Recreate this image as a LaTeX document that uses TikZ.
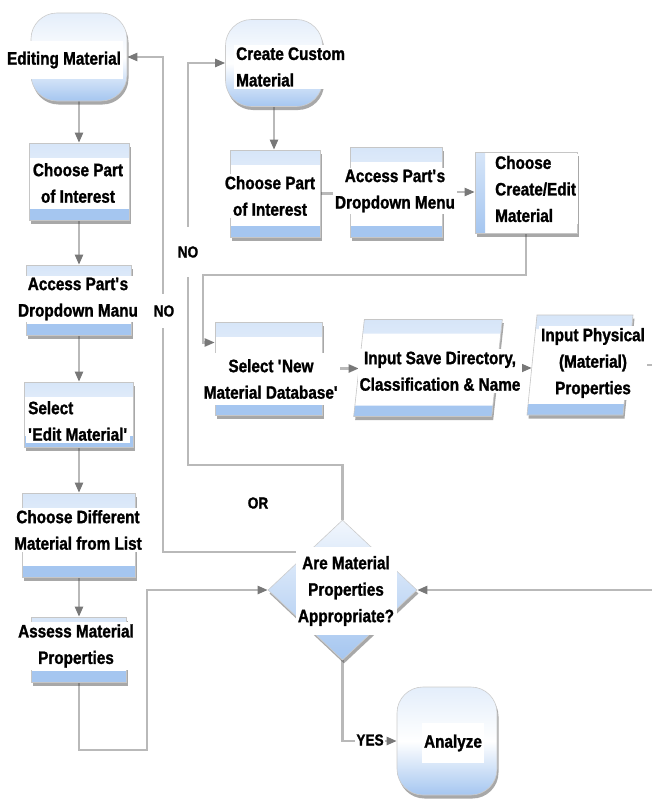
\documentclass[tikz,border=0pt]{standalone}
\usepackage{fontspec}
\setmainfont{Liberation Sans}[FakeStretch=0.85,BoldFeatures={FakeBold=1.3}]
\usetikzlibrary{shapes.geometric,arrows.meta,shadows,calc,backgrounds}
\pgfdeclarelayer{paper}
\pgfsetlayers{paper,background,main}
\definecolor{boxblue}{RGB}{165,198,240}
\definecolor{linegray}{RGB}{185,185,185}
\definecolor{tipgray}{RGB}{120,120,120}
\newcommand\lblfont{\fontsize{18}{26.5}\selectfont\bfseries}
\newcommand\edgefont{\fontsize{16}{20}\selectfont\bfseries}
\newcommand\sq{\textquotesingle}

\begin{document}
\begin{tikzpicture}[x=1pt,y=-1pt,
  softshadow/.style={drop shadow={shadow xshift=1.5pt,shadow yshift=-3.5pt,opacity=0.45,fill=black!75}},
  procbox/.style={rectangle,draw=gray!45,line width=0.6pt,fill=white,inner sep=0pt,softshadow,
    path picture={
      \shade[top color=boxblue!45,bottom color=white]
        (path picture bounding box.north west) rectangle ([yshift=-14pt]path picture bounding box.north east);
      \fill[boxblue] (path picture bounding box.south west) rectangle ([yshift=11pt]path picture bounding box.south east);}},
  sidebox/.style={rectangle,draw=gray!45,line width=0.6pt,fill=white,inner sep=0pt,softshadow,
    path picture={
      \shade[top color=boxblue!45,bottom color=boxblue]
        (path picture bounding box.south west) rectangle ([xshift=10pt]path picture bounding box.north west);}},
  termbox/.style={rectangle,rounded corners=26pt,draw=gray!40,line width=0.6pt,
    top color=boxblue!30,bottom color=boxblue,middle color=white,inner sep=0pt,softshadow},
  decision/.style={diamond,draw=gray!40,line width=0.6pt,top color=boxblue!15,bottom color=boxblue,
    inner sep=0pt,softshadow},
  lbl/.style={font=\lblfont,align=center,fill=white,inner sep=2pt,text=black},
  edgelbl/.style={font=\edgefont,fill=white,inner sep=1pt,text=black},
  link/.style={draw=linegray,line width=2.2pt},
  arr/.style={link,-{Triangle[length=10pt,width=8pt,color=tipgray]}}
]
\useasboundingbox (0,0) rectangle (652,800);
\begin{pgfonlayer}{paper}
  \fill[white] (0,0) rectangle (652,800);
\end{pgfonlayer}

% ---- left column: editing an existing material
\node[termbox,minimum width=96pt,minimum height=88pt] (edit) at (79,57) {};
\node[procbox,minimum width=100pt,minimum height=77pt] (chp1) at (79,181.5) {};
\node[procbox,minimum width=105pt,minimum height=70pt] (acc1) at (79,300) {};
\node[procbox,minimum width=109pt,minimum height=65pt] (sel1) at (79,414.5) {};
\node[procbox,minimum width=113pt,minimum height=84pt] (chd1) at (79,535) {};
\node[procbox,minimum width=95pt,minimum height=65pt] (ass1) at (79,649.5) {};

% ---- top row: creating a custom material
\node[termbox,minimum width=97pt,minimum height=87pt] (create) at (274,63) {};
\node[procbox,minimum width=90pt,minimum height=87pt] (chp2) at (275,193.5) {};
\node[procbox,minimum width=92pt,minimum height=90pt] (acc2) at (396,192) {};
\node[sidebox,minimum width=102pt,minimum height=81pt] (cce) at (526,192.5) {};

% ---- middle row: new material database
\node[procbox,minimum width=107pt,minimum height=93pt] (seln) at (268.5,368.5) {};
\begin{scope}[shift={(428,368)},xslant=0.11]
  \node[procbox,transform shape,minimum width=138pt,minimum height=97pt] (save) at (0,0) {};
\end{scope}
\begin{scope}[shift={(580,365)},xslant=0.1]
  \node[procbox,transform shape,minimum width=96pt,minimum height=100pt] (phys) at (0,0) {};
\end{scope}

% ---- decision and end
\node[decision,minimum width=149pt,minimum height=140pt] (dia) at (342.5,590) {};
\node[termbox,minimum width=100pt,minimum height=108pt] (analyze) at (447,741) {};

% ---- texts
\node[lbl,minimum height=38pt] (editt) at (64,60) {Editing Material};
\node[lbl] (chp1t) at (78,183) {Choose Part\\of Interest};
\node[lbl] (acc1t) at (78,299) {Access Part\sq s\\Dropdown Manu};
\node[lbl,align=left,anchor=west] (sel1t) at (26,421) {Select\\\sq Edit Material\sq};
\node[lbl] (chd1t) at (78,530) {Choose Different\\Material from List};
\node[lbl] (ass1t) at (76,646) {Assess Material\\Properties};
\node[lbl,align=left,anchor=west] (createt) at (234,67) {Create Custom\\Material};
\node[lbl] (chp2t) at (270,196) {Choose Part\\of Interest};
\node[lbl] (acc2t) at (395,191) {Access Part\sq s\\Dropdown Menu};
\node[lbl,align=left,anchor=west] (ccet) at (493,189) {Choose\\Create/Edit\\Material};
\node[lbl,minimum height=52pt] (selnt) at (271,379) {Select \sq New\\Material Database\sq};
\node[lbl] (savet) at (440,371) {Input Save Directory,\\Classification \& Name};
\node[lbl] (physt) at (593,363) {Input Physical\\(Material)\\Properties};
\node[lbl,minimum width=101pt,minimum height=88pt] (diat) at (346,591) {Are Material\\Properties\\Appropriate?};
\node[lbl,minimum height=40pt] (analyzet) at (453,743) {Analyze};

% ---- rails for the connectors
\coordinate (loopA) at (147,750);
\coordinate (railB) at (188,465);
\coordinate (railC) at (163,0);
\coordinate (railD) at (203,275);
\coordinate (offR) at (700,0);
\coordinate (nwpt) at ($(dia.north)!0.457!(dia.west)$);

% ---- connectors
\begin{scope}[on background layer]
  \draw[arr] (edit) -- (chp1);
  \draw[arr] (chp1) -- (acc1);
  \draw[arr] (acc1) -- (sel1);
  \draw[arr] (sel1) -- (chd1);
  \draw[arr] (chd1) -- (ass1);
  \draw[arr] (ass1.south) |- (loopA) |- (dia.west);
  \draw[arr] (dia.north) |- (railB) |- (create.west);
  \draw[arr] (nwpt) -- (nwpt -| railC) |- (edit.east);
  \draw[arr] (create.south) -- (create.south |- chp2.north);
  \draw[arr] (chp2.east) -- (chp2.east -| acc2.west);
  \draw[arr] (acc2.east) -- (acc2.east -| cce.west);
  \draw[arr] (cce.south) |- (railD) |- ([yshift=26pt]seln.west);
  \draw[arr] (seln.east) -- (seln.east -| save.west);
  \draw[arr] (save.east) -- (save.east -| phys.west);
  \draw[arr] (phys.east) -- (phys.east -| offR) |- (dia.east);
  \draw[arr] (dia.south) |- (analyze.west);
\end{scope}

% ---- connector labels
\node[edgelbl,minimum height=50pt] (no1) at (188,252) {NO};
\node[edgelbl,minimum height=34pt] (no2) at (164,311) {NO};
\node[edgelbl,fill=none] (orl) at (258,503) {OR};
\node[edgelbl] (yes) at (370,740) {YES};
\end{tikzpicture}
\end{document}
